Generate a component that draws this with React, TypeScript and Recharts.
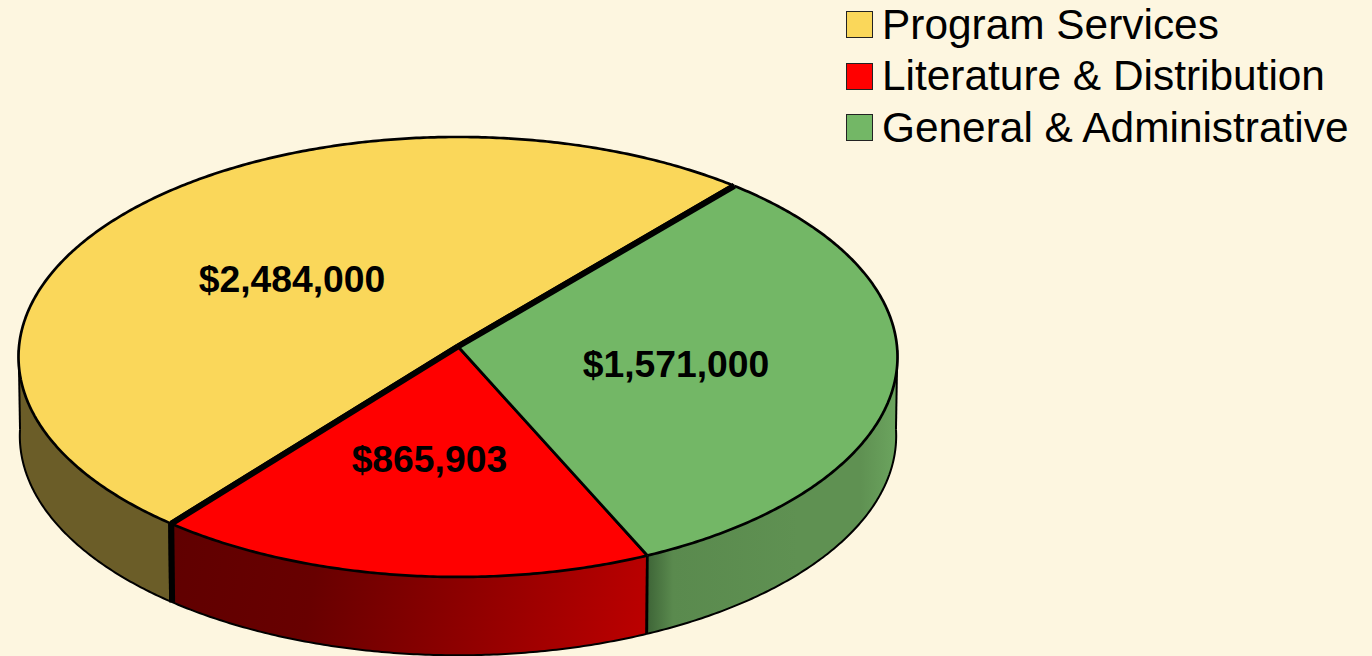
import React from 'react';
import { PieChart, Pie, Legend } from 'recharts';

const categories = ['Program Services', 'Literature & Distribution', 'General & Administrative'];
const amounts = [2484000, 865903, 1571000];
const topColors = ['#FAD75A', '#FF0000', '#73B766'];
const sideFills = ['#6B5D28', 'url(#redSide)', 'url(#greenSide)'];
const thickEdges = [[true, true], [true, false], [false, true]];

const data = categories.map((name, i) => ({
  name,
  value: amounts[i],
  fill: topColors[i],
  side: sideFills[i],
  edges: thickEdges[i],
}));

const BG = '#FDF6E0';
const TILT = 0.5;
const PERSPECTIVE = 0.0476;
const DEPTH = 79;
const BOTTOM_SCALE = 0.997;
const THIN = 2.7;
const THICK = 6;

type P = [number, number];

// Perspective projection of a point on the flat disc onto the screen.
const project = (cx: number, cy: number, r: number, angle: number, radial = 1): P => {
  const rad = (angle * Math.PI) / 180;
  const u = radial * Math.cos(rad);
  const v = radial * Math.sin(rad);
  const w = 1 / (1 + PERSPECTIVE * v);
  return [cx + r * u * w, cy - r * TILT * v * w];
};

const toBottom = (cx: number, cy: number, p: P): P => [
  cx + (p[0] - cx) * BOTTOM_SCALE,
  cy + DEPTH + (p[1] - cy) * BOTTOM_SCALE,
];

const arc = (cx: number, cy: number, r: number, a0: number, a1: number): P[] => {
  const n = Math.max(2, Math.ceil(Math.abs(a1 - a0) * 2));
  const pts: P[] = [];
  for (let i = 0; i <= n; i++) pts.push(project(cx, cy, r, a0 + ((a1 - a0) * i) / n));
  return pts;
};

const line = (pts: P[]) => pts.map((p, i) => `${i ? 'L' : 'M'}${p[0].toFixed(2)} ${p[1].toFixed(2)}`).join(' ');

// Range of the disc's rim whose wall faces the viewer.
const visibleRanges = (a0: number, a1: number): [number, number][] => {
  const out: [number, number][] = [];
  for (const k of [0, 360]) {
    const s = Math.max(a0, 181 + k);
    const e = Math.min(a1, 359 + k);
    if (e > s) out.push([s, e]);
  }
  return out;
};

const Slice = (props: any) => {
  const { cx, cy, outerRadius: r, startAngle, endAngle, fill, payload } = props;
  const rim = arc(cx, cy, r, startAngle, endAngle);
  const meta = payload?.edges ? payload : props;
  const edges: boolean[] = meta.edges;
  const side: string = meta.side;
  const startPt = rim[0];
  const endPt = rim[rim.length - 1];
  const walls = visibleRanges(startAngle, endAngle);
  return (
    <g>
      {walls.map(([s, e], i) => {
        const upper = arc(cx, cy, r, s, e);
        const lower = upper.map((p) => toBottom(cx, cy, p)).reverse();
        return (
          <g key={i}>
            <path d={`${line([...upper, ...lower])} Z`} fill={side} stroke="none" />
            <path d={line(lower)} fill="none" stroke="#000" strokeWidth={2} />
            <path d={line([upper[0], lower[lower.length - 1]])} fill="none" stroke="#000" strokeWidth={s === startAngle && edges[0] ? THICK : s === startAngle ? THIN : 2} />
            <path d={line([upper[upper.length - 1], lower[0]])} fill="none" stroke="#000" strokeWidth={e === endAngle && edges[1] ? THICK : e === endAngle ? THIN : 2} />
          </g>
        );
      })}
      <path d={`${line([[cx, cy], ...rim])} Z`} fill={fill} stroke="none" />
      <path d={line(rim)} fill="none" stroke="#000" strokeWidth={THIN} />
      <path d={line([[cx, cy], startPt])} fill="none" stroke="#000" strokeWidth={edges[0] ? THICK : THIN} />
      <path d={line([[cx, cy], endPt])} fill="none" stroke="#000" strokeWidth={edges[1] ? THICK : THIN} />
    </g>
  );
};

const renderValue = (props: any) => {
  const { cx, cy, outerRadius, midAngle, value } = props;
  const [x, y] = project(cx, cy, outerRadius, midAngle, 0.5);
  return (
    <text
      x={x}
      y={y + 1.5}
      textAnchor="middle"
      dominantBaseline="central"
      fontFamily="'Liberation Sans', sans-serif"
      fontWeight={700}
      fontSize={37.3}
      fill="#000"
    >
      {`$${Number(value).toLocaleString('en-US')}`}
    </text>
  );
};

const LegendRows = ({ payload }: any) => (
  <div style={{ fontFamily: "'Liberation Sans', sans-serif", fontSize: 42.4, color: '#000' }}>
    {(payload ?? []).map((entry: any) => (
      <div key={entry.value} style={{ display: 'flex', alignItems: 'center', height: 51.5, whiteSpace: 'nowrap' }}>
        <span
          style={{
            display: 'inline-block',
            boxSizing: 'border-box',
            width: 27,
            height: 27,
            background: entry.color,
            border: '1.5px solid #222',
            marginRight: 9,
          }}
        />
        <span>{entry.value}</span>
      </div>
    ))}
  </div>
);

export default function App() {
  return (
    <div style={{ position: 'absolute', left: 0, top: 0, width: 1372, height: 656, background: BG, overflow: 'hidden' }}>
      <PieChart width={1372} height={656} margin={{ top: 0, right: 0, bottom: 0, left: 0 }}>
        <defs>
          <linearGradient id="redSide" gradientUnits="userSpaceOnUse" x1={170} y1={560} x2={647} y2={640}>
            <stop offset="0%" stopColor="#600000" />
            <stop offset="30%" stopColor="#680000" />
            <stop offset="65%" stopColor="#920000" />
            <stop offset="100%" stopColor="#BC0000" />
          </linearGradient>
          <linearGradient id="greenSide" gradientUnits="userSpaceOnUse" x1={648} y1={0} x2={898} y2={0}>
            <stop offset="0%" stopColor="#3F6638" />
            <stop offset="10%" stopColor="#5A8A4E" />
            <stop offset="60%" stopColor="#5F9152" />
            <stop offset="85%" stopColor="#5F9152" />
            <stop offset="100%" stopColor="#6CA55F" />
          </linearGradient>
        </defs>
        <Pie
          data={data}
          dataKey="value"
          nameKey="name"
          cx={458}
          cy={346.5}
          innerRadius={0}
          outerRadius={439}
          startAngle={49.3}
          endAngle={409.3}
          stroke="none"
          isAnimationActive={false}
          shape={Slice}
          label={renderValue}
          labelLine={false}
        />
        <Legend
          layout="vertical"
          content={LegendRows}
          itemSorter={null}
          wrapperStyle={{ position: 'absolute', left: 846, top: -1, width: 526 }}
        />
      </PieChart>
    </div>
  );
}
